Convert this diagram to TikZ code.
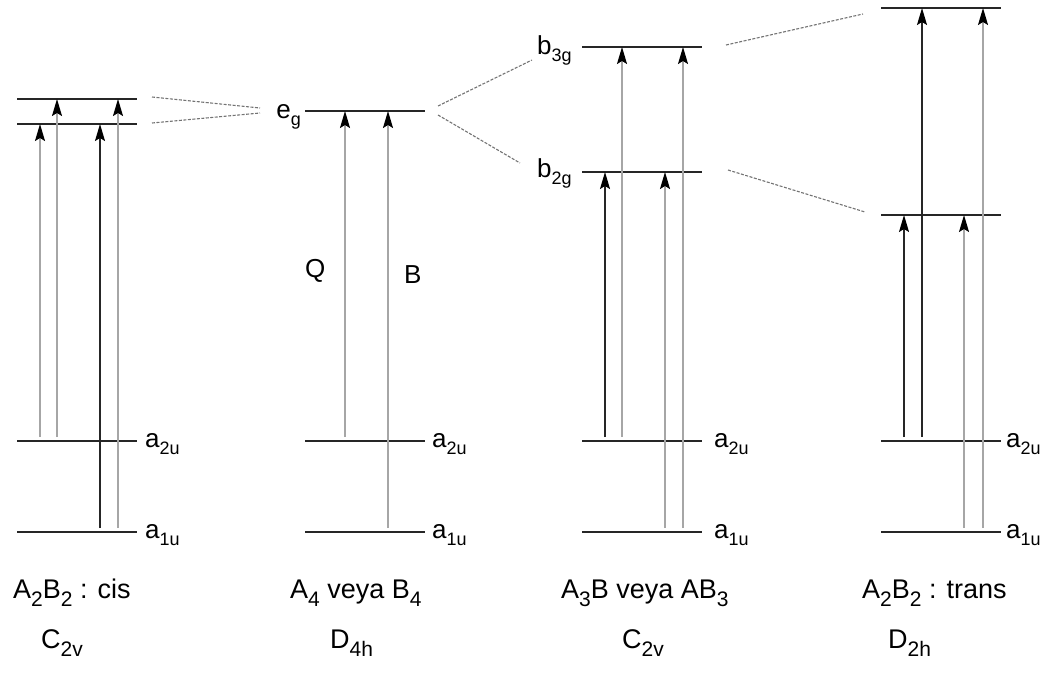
\documentclass[tikz,border=0pt]{standalone}
\usepackage{fontspec}
\setmainfont{Liberation Sans}
\usetikzlibrary{arrows.meta}
\newcommand{\lvsub}[1]{\raisebox{-7pt}{\fontsize{18}{18}\selectfont #1}}
\newcommand{\grsub}[1]{\raisebox{-8pt}{\fontsize{21}{21}\selectfont #1}}

\begin{document}
\begin{tikzpicture}[x=1pt, y=-1pt,
  lvl/.style={draw=black!85, line width=1.3pt},
  garr/.style={draw=black!35, line width=1.4pt, shorten <=4pt,
    -{Stealth[length=17pt,width=10pt,inset=3pt,color=black]}},
  karr/.style={garr, draw=black!85},
  split/.style={draw=black!55, line width=1.1pt, dash pattern=on 3pt off 1.5pt},
  lbl/.style={font=\fontsize{26}{30}\selectfont, inner sep=0pt},
  grp/.style={font=\fontsize{27}{30}\selectfont, inner sep=0pt},
]
\useasboundingbox (0,0) rectangle (1049,675);

\coordinate (p1eu) at (17,99);
\coordinate (p1el) at (17,124);
\coordinate (p1a2) at (17,441);
\coordinate (p1a1) at (17,532);
\coordinate (p2eg) at (305,111);
\coordinate (p2a2) at (305,441);
\coordinate (p2a1) at (305,532);
\coordinate (p3b3) at (582,47);
\coordinate (p3b2) at (582,172);
\coordinate (p3a2) at (582,441);
\coordinate (p3a1) at (582,532);
\coordinate (p4u) at (881,8);
\coordinate (p4l) at (881,215);
\coordinate (p4a2) at (881,441);
\coordinate (p4a1) at (881,532);

\foreach \lv in {p1eu,p1el,p1a2,p1a1,p2eg,p2a2,p2a1,p3b3,p3b2,p3a2,p3a1,p4u,p4l,p4a2,p4a1}
  \draw[lvl] (\lv) -- ++(120,0);

\node[lbl, anchor=base west] (l1a2) at (145,447) {a\lvsub{2u}};
\node[lbl, anchor=base west] (l1a1) at (145,538) {a\lvsub{1u}};
\node[lbl, anchor=base east] (l2eg) at (301,118) {e\lvsub{g}};
\node[lbl, anchor=base west] (l2a2) at (432,447) {a\lvsub{2u}};
\node[lbl, anchor=base west] (l2a1) at (432,538) {a\lvsub{1u}};
\node[lbl, anchor=base west] (l3b3) at (537,54) {b\lvsub{3g}};
\node[lbl, anchor=base west] (l3b2) at (537,177) {b\lvsub{2g}};
\node[lbl, anchor=base west] (l3a2) at (714,447) {a\lvsub{2u}};
\node[lbl, anchor=base west] (l3a1) at (714,538) {a\lvsub{1u}};
\node[lbl, anchor=base west] (l4a2) at (1006,447) {a\lvsub{2u}};
\node[lbl, anchor=base west] (l4a1) at (1006,538) {a\lvsub{1u}};
\node[lbl, anchor=base west] (q) at (305,277) {Q};
\node[lbl, anchor=base west] (b) at (404,283) {B};

\draw[garr] ([xshift=23pt]p1a2) -- ([xshift=23pt]p1el);
\draw[garr] ([xshift=40pt]p1a2) -- ([xshift=40pt]p1eu);
\draw[karr] ([xshift=83pt]p1a1) -- ([xshift=83pt]p1el);
\draw[garr] ([xshift=101pt]p1a1) -- ([xshift=101pt]p1eu);
\draw[garr] ([xshift=40pt]p2a2) -- ([xshift=40pt]p2eg);
\draw[garr] ([xshift=83pt]p2a1) -- ([xshift=83pt]p2eg);
\draw[karr] ([xshift=23pt]p3a2) -- ([xshift=23pt]p3b2);
\draw[garr] ([xshift=40pt]p3a2) -- ([xshift=40pt]p3b3);
\draw[garr] ([xshift=83pt]p3a1) -- ([xshift=83pt]p3b2);
\draw[garr] ([xshift=101pt]p3a1) -- ([xshift=101pt]p3b3);
\draw[karr] ([xshift=23pt]p4a2) -- ([xshift=23pt]p4l);
\draw[karr] ([xshift=41pt]p4a2) -- ([xshift=41pt]p4u);
\draw[garr] ([xshift=83pt]p4a1) -- ([xshift=83pt]p4l);
\draw[garr] ([xshift=102pt]p4a1) -- ([xshift=102pt]p4u);

\coordinate (s1a) at (152,97);
\coordinate (s1b) at (260,108);
\coordinate (s1c) at (152,123);
\coordinate (s1d) at (260,113);
\coordinate (s2a) at (438,106);
\coordinate (s2b) at (532,60);
\coordinate (s2c) at (438,115);
\coordinate (s2d) at (520,163);
\coordinate (s3a) at (726,45);
\coordinate (s3b) at (863,14);
\coordinate (s3c) at (728,170);
\coordinate (s3d) at (865,212);
\draw[split] (s1a) -- (s1b);
\draw[split] (s1c) -- (s1d);
\draw[split] (s2a) -- (s2b);
\draw[split] (s2c) -- (s2d);
\draw[split] (s3a) -- (s3b);
\draw[split] (s3c) -- (s3d);

\node[grp, anchor=base west] (n1) at (13,598) {A\grsub{2}B\grsub{2} : cis};
\node[grp, anchor=base west] (n2) at (290,598) {A\grsub{4} veya B\grsub{4}};
\node[grp, anchor=base west] (n3) at (561,598) {A\grsub{3}B veya AB\grsub{3}};
\node[grp, anchor=base west] (n4) at (862,598) {A\grsub{2}B\grsub{2} : trans};
\node[grp, anchor=base west] (g1) at (41,648) {C\grsub{2v}};
\node[grp, anchor=base west] (g2) at (330,648) {D\grsub{4h}};
\node[grp, anchor=base west] (g3) at (622,648) {C\grsub{2v}};
\node[grp, anchor=base west] (g4) at (888,648) {D\grsub{2h}};
\end{tikzpicture}
\end{document}
